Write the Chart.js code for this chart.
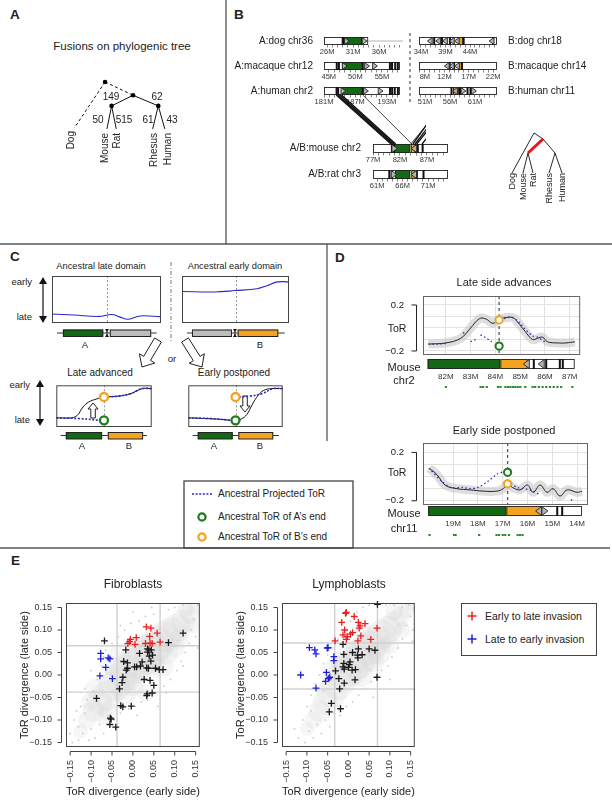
<!DOCTYPE html>
<html><head><meta charset="utf-8">
<script src="https://cdn.jsdelivr.net/npm/chart.js@4.4.1/dist/chart.umd.min.js"></script>
<style>
body{margin:0;background:#fff;}
#root{position:relative;width:612px;height:800px;overflow:hidden;font-family:'Liberation Sans',Arial,Helvetica,sans-serif;color:#222;background:#fff;}
.t{position:absolute;white-space:nowrap;line-height:1;}
.v{position:absolute;white-space:nowrap;line-height:1;writing-mode:vertical-rl;transform:rotate(180deg);}
canvas{position:absolute;}
svg{position:absolute;left:0;top:0;}
</style></head>
<body><div id="root"></div>
<script>
// ======================= DATA =======================
// Panel A: phylogenetic tree (node positions in tree units), branch fusion counts
const treeANodes = {root:[4.4,0.9], anc:[7.4,2.4], rod:[5.1,3.6], pri:[10.1,3.6],
  Dog:[1.1,6.1], Mouse:[4.6,6.2], Rat:[5.6,6.2], Rhesus:[9.5,6.2], Human:[10.8,6.2]};
const treeAEdges = [['root','Dog'],['root','anc'],['anc','rod'],['anc','pri'],['rod','Mouse'],['rod','Rat'],['pri','Rhesus'],['pri','Human']];
const treeADashed = ['root-Dog','root-anc'];
const branchCounts = {rod:149, pri:62, Mouse:50, Rat:515, Rhesus:61, Human:43};
// Panel B small tree
const treeBNodes = {apex:[3.4,0.8], n:[4.3,1.4], rod:[2.8,2.8], pri:[5.5,2.8],
  Dog:[1.2,4.8], Mouse:[2.3,4.8], Rat:[3.3,4.8], Rhesus:[4.9,4.8], Human:[6.2,4.8]};
const treeBEdges = [['apex','Dog'],['apex','n'],['n','pri'],['rod','Mouse'],['rod','Rat'],['pri','Rhesus'],['pri','Human']];
const treeBRed = [['n','rod']];
// Panel B chromosomes (Mb)
const dog36  = {range:[25.4,40.6], labels:[26,31,36], box:[25.4,33.9], tail:[33.9,40.6], green:[29.1,32.7], bars:[29.0,29.3,32.7], right:[29.8,33.2], left:[]};
const dog18  = {range:[33.6,49.5], labels:[34,39,44], box:[33.6,49.5], orange:[41.6,42.6], bars:[36.7,38.3,39.9,42.7,48.7], right:[], left:[35.8,37.5,38.9,40.3,41.3,48.4]};
const mac12  = {range:[44.1,58.4], labels:[45,50,55], box:[44.1,58.4], green:[47.5,51.4], bars:[46.5,46.9,51.4,56.5,56.9,57.5,58.0], right:[48.0,52.2,53.7], left:[]};
const mac14  = {range:[6.8,22.8], labels:[8,12,17,22], box:[6.8,22.8], orange:[14.8,15.8], bars:[13.1,14.0,15.6], right:[], left:[12.5,13.5,14.6]};
const hum2   = {range:[181,195.5], labels:[181,187,193], box:[181,195.5], green:[184.4,188.4], bars:[183.4,183.7,188.4,193.6,194.0,194.5,195.1], right:[184.7,189.0,191.8], left:[]};
const hum11  = {range:[49.8,65.4], labels:[51,56,61], box:[49.8,65.4], orange:[56.6,57.8], bars:[56.3,58.0,59.5,60.1], right:[58.7,60.8], left:[57.0]};
const mouse2 = {range:[77,90.9], labels:[77,82,87], box:[77,90.9], green:[80.7,83.9], orange:[84.0,85.0], bars:[80.5,80.9,84.9,85.3,86.2], right:[81.0], left:[84.6]};
const rat3   = {range:[60.2,74.9], labels:[61,66,71], box:[60.2,74.9], green:[64.5,67.5], orange:[67.7,68.5], bars:[63.4,63.9,68.8,70.1], right:[64.3], left:[68.2]};
// synteny links (human Mb -> mouse chr2 Mb)
const linksHum2  = [[183.35,80.35],[183.65,80.6],[184.0,80.9],[184.35,81.2]];
const linksHum2Thin = [[188.4,84.2]];
const linksHum11 = [[55.6,84.4],[56.5,84.8],[57.3,85.1],[58.0,86.1]];
const linksHum11Thin = [[56.3,84.0]];
// Panel C schematic curves (position %, relative ToR 0=late 1=early)
const cLateDomain  = [[0,0.19],[20,0.17],[43,0.14],[55,0.18],[62,0.13],[70,0.08],[81,0.15],[100,0.13]];
const cEarlyDomain = [[0,0.67],[30,0.66],[50,0.69],[70,0.73],[80,0.8],[88,0.87],[95,0.88],[100,0.87]];
const cAncLeft  = [[0,0.22],[25,0.2],[50,0.15]];
const cAncRight = [[50,0.72],[65,0.74],[78,0.8],[90,0.92],[100,0.92]];
const cAdvanced = [[0,0.22],[16,0.22],[22,0.28],[28,0.48],[34,0.6],[42,0.67],[50,0.72],[65,0.74],[78,0.8],[90,0.92],[100,0.92]];
const cPostponed = [[0,0.22],[30,0.19],[50,0.16],[56,0.19],[62,0.3],[68,0.55],[74,0.76],[80,0.88],[88,0.92],[100,0.92]];
const cRingsA = [[50,0.16]];
const cRingsB = [[50,0.72]];
// Panel D: ToR profiles (Mb, ToR)
const d1ToR = [[81.3,-0.14],[82.0,-0.13],[82.6,-0.09],[83.0,0.0],[83.35,0.08],[83.6,0.08],[83.9,0.04],[84.1,0.07],[84.4,0.09],[84.7,0.09],[84.9,0.05],[85.2,-0.03],[85.5,-0.10],[85.7,-0.09],[85.9,-0.08],[86.1,-0.12],[86.5,-0.13],[86.85,-0.13],[87.2,-0.12]];
const d1Anc = [[81.3,-0.14],[81.7,-0.14],[82.0,-0.135],[82.2,null],[82.7,-0.04],[82.8,-0.06],[82.9,null],[83.0,-0.12],[83.2,-0.1],[83.3,null],[83.4,-0.06],[83.65,-0.09],[83.85,-0.12],[84.0,null],[84.2,0.07],[84.5,0.09],[84.7,0.09],[85.0,0.04],[85.2,-0.01],[85.5,-0.07],[85.7,-0.08],[86.0,-0.12]];
const d1Break = 84.15, d1RingB = 0.07, d1RingA = -0.157;
const d1Ticks = [82,83,84,85,86,87];
const d1Chrom = {box:[81.27,87.2], green:[81.27,84.2], orange:[84.2,85.3], bars:[85.55,86.05,86.6,86.72], left:[85.25,85.85], right:[]};
const d1Genes = [82.0,83.4,83.5,83.65,84.1,84.2,84.4,84.5,84.6,84.7,84.8,84.9,85.0,85.2,85.5,85.6,85.75,85.9,86.05,86.2,86.35,86.5,86.65,87.1];
const d2ToR = [[19.97,0.07],[19.65,0.017],[19.32,-0.07],[18.84,-0.10],[18.31,-0.11],[17.79,-0.12],[17.23,-0.12],[16.98,-0.1],[16.8,-0.06],[16.6,-0.09],[16.3,-0.11],[16.0,-0.07],[15.77,-0.13],[15.49,-0.07],[15.21,-0.13],[14.97,-0.1],[14.69,-0.16],[14.4,-0.11],[14.0,-0.13],[13.8,-0.12]];
const d2Anc = [[19.97,0.07],[19.5,-0.03],[19.1,-0.09],[18.6,-0.09],[18.3,-0.1],[18.0,-0.09],[17.6,-0.04],[17.23,0.02],[16.98,0.04],[16.9,null],[16.8,-0.04],[16.4,-0.09],[15.9,-0.11],[15.5,-0.15],[15.0,null],[14.25,-0.19],[14.15,-0.2]];
const d2Break = 16.8, d2RingA = 0.035, d2RingB = -0.06;
const d2Ticks = [14,15,16,17,18,19];
const d2Chrom = {box:[13.8,20.0], green:[16.85,20.0], orange:[15.45,16.85], bars:[14.8,14.6], left:[15.55], right:[15.3]};
const d2Genes = [19.95,18.96,18.9,17.95,17.25,17.15,17.0,16.9,16.75,16.4,16.3,16.2];
// Panel E: ToR divergence (early side, late side)
const eTicks = [-0.15,-0.10,-0.05,0,0.05,0.10,0.15];
const fibroRed = [[0.032,0.107],[0.043,0.104],[0.058,0.093],[0.040,0.086],[0.008,0.083],[-0.006,0.079],[-0.008,0.074],[-0.012,0.070],[0.005,0.068],[0.030,0.070],[0.041,0.071],[0.046,0.070],[0.065,0.073]];
const fibroBlue = [[-0.077,0.048],[-0.077,0.036],[-0.059,0.038],[-0.055,0.036],[-0.065,0.017],[-0.079,-0.002],[-0.049,-0.008]];
const fibroBlack = [[-0.068,0.076],[0.120,0.093],[0.085,0.072],[-0.017,0.056],[0.016,0.048],[0.035,0.058],[0.038,0.056],[0.044,0.056],[0.035,0.051],[0.047,0.044],[0.039,0.042],[-0.022,0.030],[-0.013,0.027],[-0.013,0.015],[-0.016,0.011],[0.004,0.018],[0.009,0.018],[0.018,0.020],[0.022,0.029],[0.033,0.016],[0.037,0.015],[0.043,0.031],[0.054,0.015],[0.063,0.012],[0.072,0.012],[-0.024,-0.005],[-0.026,-0.017],[-0.032,-0.031],[0.027,-0.010],[0.041,-0.012],[0.050,-0.023],[-0.087,-0.052],[0.034,-0.042],[0.033,-0.046],[0.046,-0.040],[-0.029,-0.068],[-0.024,-0.071],[-0.004,-0.069],[-0.054,-0.096],[-0.052,-0.098],[-0.055,-0.110],[-0.041,-0.116]];
const fibroCloud = [[-0.125,-0.125,7],[-0.11,-0.10,9],[-0.095,-0.08,11],[-0.08,-0.06,13],[-0.06,-0.045,15],[-0.045,-0.025,16],[-0.03,-0.01,17],[-0.015,0.005,18],[0.0,0.02,18],[0.015,0.03,18],[0.03,0.04,18],[0.045,0.055,18],[0.06,0.07,17],[0.075,0.085,16],[0.09,0.095,15],[0.105,0.105,14],[0.12,0.12,12],[0.135,0.135,10],[0.148,0.15,7],[-0.09,-0.03,10],[-0.02,-0.04,12],[0.07,0.02,11],[0.1,0.06,10],[-0.03,0.05,10],[-0.07,-0.09,9],[0.03,-0.04,9],[-0.1,-0.06,10],[-0.06,-0.08,10],[0.0,-0.02,12],[0.05,0.02,12],[0.08,0.05,12],[0.11,0.08,10],[-0.05,0.02,10],[0.02,0.07,10],[0.125,0.145,8],[0.14,0.11,8]];
const fibroSpecks = [[-0.15,-0.13],[-0.145,-0.15],[-0.14,-0.1],[-0.13,-0.145],[-0.125,-0.07],[-0.12,-0.13],[-0.115,-0.085],[-0.11,-0.055],[-0.105,-0.145],[-0.1,-0.12],[-0.095,-0.035],[-0.09,-0.14],[-0.085,-0.01],[-0.08,-0.11],[-0.075,0.02],[-0.07,-0.13],[-0.065,0.055],[-0.06,-0.09],[-0.05,0.07],[-0.045,-0.1],[-0.035,0.085],[-0.03,-0.085],[-0.02,0.1],[-0.01,-0.075],[-0.005,0.115],[0.005,-0.07],[0.015,0.12],[0.02,-0.06],[0.03,0.13],[0.035,-0.055],[0.05,0.135],[0.055,-0.04],[0.065,0.14],[0.075,-0.025],[0.085,0.145],[0.09,-0.01],[0.1,0.15],[0.105,0.01],[0.115,0.03],[0.12,0.155],[0.125,0.05],[0.135,0.07],[0.14,0.1],[0.145,0.125],[0.15,0.085],[0.155,0.155],[-0.13,-0.115],[0.0,0.14],[0.06,-0.07],[-0.1,0.01],[-0.135,-0.08],[-0.115,-0.03],[-0.07,0.04],[-0.04,-0.12],[0.01,-0.09],[0.08,-0.04],[0.12,0.02],[0.155,0.06],[-0.03,0.11],[0.045,0.15]];
const fibroCutX = [-0.038,0.065], fibroCutY = [-0.038,0.065];
const lymphoRed = [[-0.007,0.137],[-0.005,0.139],[0.014,0.130],[-0.016,0.117],[0.024,0.117],[0.040,0.114],[0.028,0.109],[0.026,0.104],[-0.009,0.100],[0.010,0.094],[0.005,0.091],[0.069,0.104],[-0.003,0.085],[-0.005,0.079],[-0.032,0.076],[0.030,0.087],[0.023,0.076],[0.054,0.079],[-0.013,0.089]];
const lymphoBlue = [[-0.094,0.061],[-0.081,0.056],[-0.078,0.047],[-0.051,0.060],[-0.049,0.061],[-0.035,0.041],[-0.035,0.032],[-0.115,0.000],[-0.053,0.006],[-0.045,-0.005],[-0.048,-0.008],[-0.055,-0.014],[-0.078,-0.029]];
const lymphoBlack = [[0.070,0.157],[-0.013,0.068],[0.024,0.058],[0.010,0.050],[-0.011,0.046],[0.022,0.044],[0.033,0.045],[0.050,0.058],[0.064,0.055],[0.023,0.038],[-0.011,0.026],[0.004,0.029],[0.002,0.023],[-0.013,0.018],[-0.010,0.013],[0.000,0.017],[0.009,0.011],[0.017,0.012],[-0.031,0.009],[-0.023,-0.008],[-0.010,-0.018],[0.016,-0.011],[0.069,-0.005],[-0.021,-0.031],[-0.041,-0.063],[-0.019,-0.075],[-0.046,-0.082]];
const lymphoCloud = [[-0.10,-0.12,7],[-0.085,-0.10,9],[-0.07,-0.08,11],[-0.055,-0.06,13],[-0.04,-0.04,15],[-0.025,-0.02,16],[-0.01,0.0,17],[0.005,0.015,18],[0.02,0.03,18],[0.035,0.045,18],[0.05,0.06,17],[0.065,0.075,16],[0.08,0.09,15],[0.095,0.10,14],[0.11,0.115,12],[0.125,0.13,10],[0.14,0.145,8],[0.15,0.155,6],[0.06,0.03,11],[0.1,0.07,10],[-0.04,0.01,10],[0.0,0.06,10],[0.13,0.1,8],[0.03,0.0,12],[0.075,0.05,12],[0.04,0.09,10],[-0.02,0.03,10],[0.11,0.14,9]];
const lymphoSpecks = [[-0.12,-0.14],[-0.11,-0.1],[-0.105,-0.15],[-0.1,-0.07],[-0.095,-0.125],[-0.09,-0.045],[-0.085,-0.14],[-0.08,-0.02],[-0.075,-0.11],[-0.07,0.0],[-0.065,-0.13],[-0.06,0.025],[-0.055,-0.1],[-0.05,0.045],[-0.045,-0.115],[-0.04,0.06],[-0.035,-0.085],[-0.025,0.08],[-0.02,-0.09],[-0.01,0.1],[-0.005,-0.07],[0.005,0.12],[0.01,-0.06],[0.02,0.14],[0.025,-0.045],[0.035,0.15],[0.04,-0.03],[0.05,0.155],[0.055,-0.015],[0.07,-0.005],[0.08,0.01],[0.09,0.155],[0.095,0.02],[0.105,0.04],[0.11,0.155],[0.12,0.06],[0.13,0.08],[0.14,0.11],[0.15,0.13],[0.155,0.1],[0.145,0.155],[0.13,0.15],[-0.13,-0.12],[0.06,-0.05],[-0.09,-0.08],[-0.06,-0.035],[0.1,-0.01],[0.155,0.075]];
const lymphoCutX = [-0.033,0.070], lymphoCutY = [-0.031,0.071];

// ======================= HELPERS =======================
const root = document.getElementById('root');
Chart.defaults.font.family = "'Liberation Sans', Arial, Helvetica, sans-serif";
Chart.defaults.color = '#222';
Chart.defaults.animation = false;
Chart.defaults.responsive = false;
Chart.defaults.events = [];
Chart.defaults.plugins.legend.display = false;
Chart.defaults.plugins.tooltip.enabled = false;
const GREEN = '#136813', ORANGE = '#f4a320', BLUE = '#2a2ac4';

function cv(l,t,w,h){const c=document.createElement('canvas');c.width=w;c.height=h;
  c.style.left=l+'px';c.style.top=t+'px';c.style.width=w+'px';c.style.height=h+'px';root.appendChild(c);return c;}
function txt(s,x,y,size,align,extra){const d=document.createElement('div');d.className='t';d.textContent=s;
  d.style.fontSize=size+'px';d.style.left=x+'px';d.style.top=y+'px';
  const tx=align==='center'?'-50%':align==='right'?'-100%':'0';d.style.transform='translate('+tx+',-50%)';
  if(extra)Object.assign(d.style,extra);root.appendChild(d);return d;}
function vtxt(s,x,yTop,size){const d=document.createElement('div');d.className='v';d.textContent=s;
  d.style.fontSize=size+'px';d.style.left=(x-size/2)+'px';d.style.top=yTop+'px';root.appendChild(d);return d;}
const XY = a => a.map(p=>({x:p[0],y:p[1]}));
function seg(p,q,color,w,dash){return {data:[{x:p[0],y:p[1]},{x:q[0],y:q[1]}],showLine:true,borderColor:color,borderWidth:w,borderDash:dash||[],pointRadius:0,clip:false};}
function diag(l,t,w,h,xr,yr,datasets,opts){opts=opts||{};
  return new Chart(cv(l,t,w,h),{type:'scatter',data:{datasets},options:{devicePixelRatio:1,layout:{padding:opts.pad||0},
    scales:{x:{type:'linear',display:false,min:xr[0],max:xr[1]},y:{type:'linear',display:false,min:yr[0],max:yr[1],reverse:!!opts.rev}}},
    plugins:opts.plugins||[]});}

function drawChrom(ctx,xs,top,h,f){
  const P=v=>xs.getPixelForValue(v);ctx.save();ctx.lineWidth=0.9;ctx.strokeStyle='#222';
  if(f.tail){ctx.strokeStyle='#aaa';ctx.beginPath();ctx.moveTo(P(f.tail[0]),top+h/2);ctx.lineTo(P(f.tail[1]),top+h/2);ctx.stroke();ctx.strokeStyle='#222';}
  const rect=(r,fill)=>{const a=P(r[0]),b=P(r[1]);const l=Math.min(a,b),w=Math.abs(b-a);ctx.fillStyle=fill;ctx.fillRect(l,top,w,h);ctx.strokeRect(l+0.5,top+0.5,w-1,h-1);};
  rect(f.box,'#fff');
  if(f.green)rect(f.green,GREEN);
  if(f.orange)rect(f.orange,ORANGE);
  (f.bars||[]).forEach(v=>{ctx.fillStyle='#111';ctx.fillRect(P(v)-1,top,2,h);});
  const tw=Math.max(3.5,h*0.6);
  const tri=(px,d)=>{ctx.beginPath();ctx.moveTo(px-d*tw/2,top+0.5);ctx.lineTo(px+d*tw/2,top+h/2);ctx.lineTo(px-d*tw/2,top+h-0.5);ctx.closePath();ctx.fillStyle='#b4b4b4';ctx.fill();ctx.stroke();};
  (f.right||[]).forEach(v=>tri(P(v),1));(f.left||[]).forEach(v=>tri(P(v),-1));
  ctx.restore();}

function chromChart(left,top,width,h,f){
  const pad=14,axisH=15;const ticksV=[];
  for(let v=Math.ceil(f.range[0]);v<=Math.floor(f.range[1]);v++)ticksV.push(v);
  return new Chart(cv(left-pad,top-3,width+2*pad,3+h+axisH),{type:'scatter',data:{datasets:[]},options:{devicePixelRatio:1,
    layout:{padding:{left:pad,right:pad,top:3,bottom:0}},
    scales:{x:{type:'linear',min:f.range[0],max:f.range[1],afterBuildTicks:s=>{s.ticks=ticksV.map(v=>({value:v}));},
      ticks:{autoSkip:false,maxRotation:0,minRotation:0,padding:0,font:{size:7.5},color:'#333',callback:v=>f.labels.includes(v)?v+'M':''},
      grid:{drawOnChartArea:false,drawTicks:true,tickLength:2.5,color:'#555',lineWidth:0.7},border:{display:false},afterFit:s=>{s.height=axisH;}},
      y:{display:false,min:0,max:1}}},
    plugins:[{id:'chr',afterDraw(ch){const ca=ch.chartArea;drawChrom(ch.ctx,ch.scales.x,ca.top,ca.bottom-ca.top,f);}}]});}

// ======================= DECORATIONS (SVG) =======================
function blockArrow(x1,y1,x2,y2,sw,hw,hl){const dx=x2-x1,dy=y2-y1,L=Math.hypot(dx,dy),ux=dx/L,uy=dy/L,nx=-uy,ny=ux;
  const bx=x1+ux*(L-hl),by=y1+uy*(L-hl);
  const pts=[[x1+nx*sw/2,y1+ny*sw/2],[bx+nx*sw/2,by+ny*sw/2],[bx+nx*hw/2,by+ny*hw/2],[x2,y2],[bx-nx*hw/2,by-ny*hw/2],[bx-nx*sw/2,by-ny*sw/2],[x1-nx*sw/2,y1-ny*sw/2]];
  return '<polygon points="'+pts.map(p=>p[0].toFixed(1)+','+p[1].toFixed(1)).join(' ')+'" fill="#fff" stroke="#222" stroke-width="1"/>';}
function dblArrow(x,y1,y2){return '<line x1="'+x+'" y1="'+(y1+6)+'" x2="'+x+'" y2="'+(y2-6)+'" stroke="#111" stroke-width="1.2"/>'+
  '<polygon points="'+(x-4)+','+(y1+7)+' '+(x+4)+','+(y1+7)+' '+x+','+y1+'" fill="#111"/>'+
  '<polygon points="'+(x-4)+','+(y2-7)+' '+(x+4)+','+(y2-7)+' '+x+','+y2+'" fill="#111"/>';}
function tinyMark(x,y){return '<line x1="'+x+'" y1="'+(y-4)+'" x2="'+x+'" y2="'+(y+4)+'" stroke="#111" stroke-width="1"/>'+
  '<polygon points="'+(x-2)+','+(y-4)+' '+(x+2)+','+(y-4)+' '+x+','+(y-1)+'" fill="#111"/><polygon points="'+(x-2)+','+(y+4)+' '+(x+2)+','+(y+4)+' '+x+','+(y+1)+'" fill="#111"/>';}
function cross(x,y,c){return '<path d="M'+(x-4.5)+' '+y+'H'+(x+4.5)+'M'+x+' '+(y-4.5)+'V'+(y+4.5)+'" stroke="'+c+'" stroke-width="1.5"/>';}
root.insertAdjacentHTML('beforeend','<svg width="612" height="800" viewBox="0 0 612 800">'+
 '<g stroke="#555" stroke-width="1.3" fill="none"><line x1="226" y1="0" x2="226" y2="244"/><line x1="0" y1="244" x2="612" y2="244"/>'+
 '<line x1="327" y1="244" x2="327" y2="441"/><line x1="0" y1="548" x2="610" y2="548"/><rect x="184" y="481" width="169" height="67" stroke="#444"/></g>'+
 '<line x1="410" y1="33" x2="410" y2="104" stroke="#333" stroke-width="1" stroke-dasharray="3,3"/>'+
 '<line x1="171" y1="262" x2="171" y2="342" stroke="#777" stroke-width="1" stroke-dasharray="4,2,1,2"/>'+
 dblArrow(43,277,323)+dblArrow(40,380,426)+tinyMark(107,333)+tinyMark(235,333)+
 blockArrow(158,340,142,367,8,18,10)+blockArrow(185,340,202,367,8,18,10)+
 blockArrow(93,418,93,403,4.5,10,6)+blockArrow(245,396,245,412,4.5,10,6)+
 '<line x1="192" y1="494" x2="213" y2="494" stroke="'+BLUE+'" stroke-width="1.6" stroke-dasharray="2,1.6"/>'+
 '<circle cx="202" cy="517" r="3.6" fill="#fff" stroke="#1d7d1d" stroke-width="2.2"/>'+
 '<circle cx="202" cy="537" r="3.6" fill="#fff" stroke="'+ORANGE+'" stroke-width="2.2"/>'+
 '<rect x="461.5" y="603.5" width="135" height="52" fill="none" stroke="#444" stroke-width="1"/>'+
 cross(472,616,'#ec1f1f')+cross(472,639,'#1f1fd8')+'</svg>');

// ======================= PANEL LABELS =======================
[['A',10,15],['B',234,15],['C',10,257],['D',335,258],['E',11,561]].forEach(p=>txt(p[0],p[1],p[2],13.5,'left',{fontWeight:'bold'}));

// ======================= PANEL A =======================
txt('Fusions on phylogenic tree',122,47,11.5,'center');
(function(){
  const ds=treeAEdges.map(e=>seg(treeANodes[e[0]],treeANodes[e[1]],'#111',1,treeADashed.includes(e[0]+'-'+e[1])?[3,2.5]:[]));
  ds.unshift({data:XY(['root','anc','rod','pri'].map(k=>treeANodes[k])),pointRadius:2.3,backgroundColor:'#000',borderWidth:0,clip:false});
  diag(60,70,120,70,[0,12],[0,7],ds,{rev:true});
})();
[['rod',111,97],['pri',157,97],['Mouse',98,120],['Rat',124,120],['Rhesus',148,120],['Human',172,120]].forEach(p=>txt(String(branchCounts[p[0]]),p[1],p[2],10,'center'));
[['Dog',71,131],['Mouse',105,133],['Rat',117,133],['Rhesus',154,133],['Human',168,133]].forEach(p=>vtxt(p[0],p[1],p[2],10));

// ======================= PANEL B =======================
const chDog36=chromChart(324,37,79,8,dog36), chDog18=chromChart(419,37,78,8,dog18);
const chMac12=chromChart(324,62,76,8,mac12), chMac14=chromChart(419,62,78,8,mac14);
const chHum2=chromChart(324,87,76,8,hum2),  chHum11=chromChart(419,87,78,8,hum11);
const chMouse2=chromChart(373,144,75,9,mouse2), chRat3=chromChart(373,170,75,9,rat3);
[['A:dog chr36',313,41],['A:macaque chr12',313,66],['A:human chr2',313,91],['A/B:mouse chr2',361,148],['A/B:rat chr3',361,174]].forEach(p=>txt(p[0],p[1],p[2],10,'right'));
[['B:dog chr18',508,41],['B:macaque chr14',508,66],['B:human chr11',508,91]].forEach(p=>txt(p[0],p[1],p[2],10,'left'));
(function(){ // synteny links through the chromosome charts' scales
  const c=cv(226,90,200,60);const ctx=c.getContext('2d');
  const px=(ch,v)=>parseFloat(ch.canvas.style.left)+ch.scales.x.getPixelForValue(v)-226;
  const yb=ch=>parseFloat(ch.canvas.style.top)+ch.chartArea.bottom-90;
  const yt=ch=>parseFloat(ch.canvas.style.top)+ch.chartArea.top-90;
  const draw=(src,links,w)=>links.forEach(l=>{ctx.beginPath();ctx.moveTo(px(src,l[0]),yb(src));ctx.lineTo(px(chMouse2,l[1]),yt(chMouse2));ctx.lineWidth=w;ctx.strokeStyle='#111';ctx.stroke();});
  draw(chHum2,linksHum2,1.5);draw(chHum2,linksHum2Thin,0.8);draw(chHum11,linksHum11,1.3);draw(chHum11,linksHum11Thin,0.8);
})();
(function(){
  const ds=treeBEdges.map(e=>seg(treeBNodes[e[0]],treeBNodes[e[1]],'#111',0.9));
  treeBRed.forEach(e=>ds.unshift(seg(treeBNodes[e[0]],treeBNodes[e[1]],'#e8141e',3)));
  diag(500,125,70,55,[0,7],[0,5.5],ds,{rev:true});
})();
[['Dog',512,173],['Mouse',523,173],['Rat',533,173],['Rhesus',549,173],['Human',562,173]].forEach(p=>vtxt(p[0],p[1],p[2],9));

// ======================= PANEL C =======================
function cBox(l,t,w,h,off,segs,datasets){
  const plug={id:'cbox',
    beforeDatasetsDraw(ch){const {ctx,chartArea:ca,scales:{x}}=ch;ctx.save();ctx.strokeStyle='#999';ctx.setLineDash([2,2]);ctx.lineWidth=1;
      const p=Math.round(x.getPixelForValue(50))+0.5;ctx.beginPath();ctx.moveTo(p,ca.top);ctx.lineTo(p,ca.bottom);ctx.stroke();ctx.restore();},
    afterDraw(ch){const {ctx,chartArea:ca,scales:{x}}=ch;ctx.save();ctx.strokeStyle='#444';ctx.lineWidth=1;
      ctx.strokeRect(ca.left+0.5,ca.top+0.5,ca.width-1,ca.height-1);
      const yc=ca.bottom+off;ctx.strokeStyle='#333';ctx.beginPath();ctx.moveTo(x.getPixelForValue(segs.line[0]),yc);ctx.lineTo(x.getPixelForValue(segs.line[1]),yc);ctx.stroke();
      segs.blocks.forEach(s=>{const a=x.getPixelForValue(s[0]),b=x.getPixelForValue(s[1]);ctx.fillStyle=s[2];ctx.fillRect(a,yc-3.5,b-a,7);ctx.strokeStyle='#222';ctx.strokeRect(a+0.5,yc-3,b-a-1,6.5);});
      ctx.restore();}};
  return diag(l,t,w,h+16,[0,100],[0,1],datasets,{pad:{bottom:16},plugins:[plug]});}
const cLine=(d,color,w,dash)=>({data:XY(d),showLine:true,borderColor:color,borderWidth:w,borderDash:dash||[],pointRadius:0,tension:0.4,clip:false});
const cRing=(d,color)=>({data:XY(d),pointRadius:4,pointBorderWidth:2.3,pointBorderColor:color,pointBackgroundColor:'#fff',clip:false});
cBox(52,276,109,47,10,{line:[4.6,96],blocks:[[10,47,GREEN],[53,91,'#bdbdbd']]},[cLine(cLateDomain,BLUE,1.1)]);
cBox(182,276,107,47,10,{line:[4.7,96],blocks:[[9.3,46.7,'#bdbdbd'],[52,90,ORANGE]]},[cLine(cEarlyDomain,BLUE,1.1)]);
cBox(50,379,108,48,8.5,{line:[4.6,95],blocks:[[10,48,GREEN],[54,91,ORANGE]]},
  [cRing(cRingsA,'#1d7d1d'),cRing(cRingsB,ORANGE),cLine(cAncLeft,BLUE,1.6,[2,1.6]),cLine(cAncRight,BLUE,1.6,[2,1.6]),cLine(cAdvanced,'#111',1)]);
cBox(182,379,107,48,8.5,{line:[4.6,96],blocks:[[10,47,GREEN],[53,90,ORANGE]]},
  [cRing(cRingsA,'#1d7d1d'),cRing(cRingsB,ORANGE),cLine(cAncLeft,BLUE,1.6,[2,1.6]),cLine(cAncRight,BLUE,1.6,[2,1.6]),cLine(cPostponed,'#111',1)]);
txt('Ancestral late domain',101,267,9.3,'center');txt('Ancestral early domain',235,267,9.3,'center');
txt('early',32,282,9.5,'right');txt('late',32,317,9.5,'right');txt('early',30,385,9.5,'right');txt('late',30,420,9.5,'right');
txt('A',85,345,9.5,'center');txt('B',260,345,9.5,'center');txt('or',172,359,9.5,'center');
txt('Late advanced',100,373,10,'center');txt('Early postponed',234,373,10,'center');
txt('A',82,446,9.5,'center');txt('B',129,446,9.5,'center');txt('A',214,446,9.5,'center');txt('B',260,446,9.5,'center');
txt('Ancestral Projected ToR',218,494,10,'left');txt("Ancestral ToR of A\u2019s end",218,517,10,'left');txt("Ancestral ToR of B\u2019s end",218,537,10,'left');

// ======================= PANEL D =======================
// chartTop: desired plot-box top; plotH: plot-box height
function dChart(chartTop,plotH,axisH,xr,rev,ticks,tor,anc,brk,ringA,ringB,chrom,genes,labPad,barOff,geneOff){
  const padTop=27;
  const plug={id:'dplot',
    beforeDatasetsDraw(ch){const {ctx,chartArea:ca,scales:{x}}=ch;ctx.save();ctx.strokeStyle='#555';ctx.lineWidth=1.3;ctx.setLineDash([3,3]);
      const p=x.getPixelForValue(brk);ctx.beginPath();ctx.moveTo(p,ca.top);ctx.lineTo(p,ca.bottom);ctx.stroke();ctx.restore();},
    afterDraw(ch){const {ctx,chartArea:ca,scales:{x,y}}=ch;ctx.save();ctx.strokeStyle='#666';ctx.lineWidth=1;
      ctx.strokeRect(ca.left+0.5,ca.top+0.5,ca.width-1,ca.height-1);
      const xb=ca.left-6.5,y1=y.getPixelForValue(0.2),y2=y.getPixelForValue(-0.2);ctx.strokeStyle='#222';
      ctx.beginPath();ctx.moveTo(xb-5,y1);ctx.lineTo(xb,y1);ctx.lineTo(xb,y2);ctx.lineTo(xb-5,y2);ctx.stroke();
      drawChrom(ctx,x,ca.bottom+barOff,10,chrom);
      ctx.fillStyle='#2f8a2f';genes.forEach(g=>ctx.fillRect(x.getPixelForValue(g)-1,ca.bottom+geneOff-1,2.2,2));
      ctx.restore();}};
  return new Chart(cv(380,chartTop-padTop,215,padTop+plotH+axisH),{type:'scatter',data:{datasets:[
      {data:[{x:brk,y:ringB}],pointRadius:3.6,pointBorderWidth:2,pointBorderColor:ORANGE,pointBackgroundColor:'#fff',clip:false,order:0},
      {data:[{x:brk,y:ringA}],pointRadius:3.6,pointBorderWidth:2,pointBorderColor:'#1d7d1d',pointBackgroundColor:'#fff',clip:false,order:0},
      {data:XY(anc),showLine:true,spanGaps:false,borderColor:BLUE,borderWidth:1.3,borderDash:[1.5,2.5],pointRadius:0,tension:0.3,order:1},
      {data:XY(tor),showLine:true,borderColor:'#222',borderWidth:1,pointRadius:0,tension:0.4,order:2},
      {data:XY(tor),showLine:true,borderColor:'rgba(200,200,200,0.6)',borderWidth:9,pointRadius:0,tension:0.4,order:3}]},
    options:{devicePixelRatio:1,layout:{padding:{top:padTop,right:7,left:0,bottom:0}},
      scales:{x:{type:'linear',min:xr[0],max:xr[1],reverse:rev,afterBuildTicks:s=>{s.ticks=ticks.map(v=>({value:v}));},
          ticks:{autoSkip:false,maxRotation:0,padding:labPad,font:{size:8},color:'#333',callback:v=>v+'M'},
          grid:{color:'#e2e2e2',drawTicks:false},border:{display:false},afterFit:s=>{s.height=axisH;}},
        y:{type:'linear',min:-0.235,max:0.278,afterBuildTicks:s=>{s.ticks=[-0.2,-0.1,0,0.1,0.2].map(v=>({value:v}));},
          ticks:{padding:19,font:{size:9.5},color:'#222',callback:v=>Math.abs(Math.abs(v)-0.2)<1e-6?(v<0?'\u22120.2':'0.2'):''},
          grid:{color:'#e2e2e2',drawTicks:false},border:{display:false},afterFit:s=>{s.width=43;}}}},
    plugins:[plug]});}
dChart(296,59,40,[81.08,87.42],false,d1Ticks,d1ToR,d1Anc,d1Break,d1RingA,d1RingB,d1Chrom,d1Genes,17,4,32);
dChart(443,62,37,[13.56,20.21],true,d2Ticks,d2ToR,d2Anc,d2Break,d2RingA,d2RingB,d2Chrom,d2Genes,14,1,30);
txt('Late side advances',504,282,11,'center');txt('ToR',397,328,10.5,'center');txt('Mouse',404,367,11,'center');txt('chr2',404,380,11,'center');
txt('Early side postponed',504,430,11,'center');txt('ToR',397,472,10.5,'center');txt('Mouse',404,513,11,'center');txt('chr11',404,528,11,'center');

// ======================= PANEL E =======================
const fmtE = v => (v < -1e-9 ? '\u2212' : '') + Math.abs(v).toFixed(2);
function eChart(left,w,red,blue,black,cloud,specks,cutX,cutY){
  const plug={id:'rAxes',
    afterDatasetDraw(ch,args){if(args.index!==4)return;const {ctx,chartArea:ca,scales:{x,y}}=ch;ctx.save();ctx.strokeStyle='#d0d0d0';ctx.lineWidth=1.4;
      cutX.forEach(v=>{const p=x.getPixelForValue(v);ctx.beginPath();ctx.moveTo(p,ca.top);ctx.lineTo(p,ca.bottom);ctx.stroke();});
      cutY.forEach(v=>{const p=y.getPixelForValue(v);ctx.beginPath();ctx.moveTo(ca.left,p);ctx.lineTo(ca.right,p);ctx.stroke();});ctx.restore();},
    afterDraw(ch){const {ctx,chartArea:ca,scales:{x,y}}=ch;ctx.save();ctx.strokeStyle='#444';ctx.lineWidth=1;
      ctx.strokeRect(ca.left+0.5,ca.top+0.5,ca.width-1,ca.height-1);
      const ax=ca.left-4.5,ay=ca.bottom+4.5;ctx.beginPath();
      ctx.moveTo(ax,y.getPixelForValue(eTicks[0]));ctx.lineTo(ax,y.getPixelForValue(eTicks[eTicks.length-1]));
      eTicks.forEach(v=>{const p=y.getPixelForValue(v);ctx.moveTo(ax,p);ctx.lineTo(ax-4,p);});
      ctx.moveTo(x.getPixelForValue(eTicks[0]),ay);ctx.lineTo(x.getPixelForValue(eTicks[eTicks.length-1]),ay);
      eTicks.forEach(v=>{const p=x.getPixelForValue(v);ctx.moveTo(p,ay);ctx.lineTo(p,ay+4);});ctx.stroke();ctx.restore();}};
  const crossDs=(d,c,o)=>({data:XY(d),pointStyle:'cross',pointRadius:3.4,borderColor:c,borderWidth:1.3,clip:false,order:o});
  return new Chart(cv(left,560,w,240),{type:'scatter',data:{datasets:[
      crossDs(red,'#ec1f1f',0),crossDs(blue,'#1f1fd8',1),crossDs(black,'#1a1a1a',2),
      {type:'bubble',data:cloud.map(p=>({x:p[0],y:p[1],r:p[2]})),backgroundColor:'rgba(205,205,205,0.18)',borderWidth:0,order:5},
      {data:XY(specks),pointRadius:0.9,backgroundColor:'#cdcdcd',borderWidth:0,order:4}]},
    options:{devicePixelRatio:1,layout:{padding:{top:43,right:8,left:0,bottom:0}},
      scales:{x:{type:'linear',min:-0.16,max:0.16,afterBuildTicks:s=>{s.ticks=eTicks.map(v=>({value:v}));},
          ticks:{autoSkip:false,minRotation:90,maxRotation:90,padding:13,font:{size:9},color:'#333',callback:fmtE},
          grid:{display:false,drawTicks:false},border:{display:false},
          title:{display:true,text:'ToR divergence (early side)',font:{size:11},color:'#222',padding:{top:0,bottom:1}},afterFit:s=>{s.height=53;}},
        y:{type:'linear',min:-0.16,max:0.16,afterBuildTicks:s=>{s.ticks=eTicks.map(v=>({value:v}));},
          ticks:{autoSkip:false,padding:14,font:{size:9},color:'#333',callback:fmtE},
          grid:{display:false,drawTicks:false},border:{display:false},
          title:{display:true,text:'ToR divergence (late side)',font:{size:11},color:'#222',padding:{top:18,bottom:0}},afterFit:s=>{s.width=66;}}}},
    plugins:[plug]});}
eChart(0,220,fibroRed,fibroBlue,fibroBlack,fibroCloud,fibroSpecks,fibroCutX,fibroCutY);
eChart(216,219,lymphoRed,lymphoBlue,lymphoBlack,lymphoCloud,lymphoSpecks,lymphoCutX,lymphoCutY);
txt('Fibroblasts',133,584,12,'center');txt('Lymphoblasts',349,584,12,'center');
txt('Early to late invasion',485,616,10.5,'left');txt('Late to early invasion',485,639,10.5,'left');
</script></body></html>
